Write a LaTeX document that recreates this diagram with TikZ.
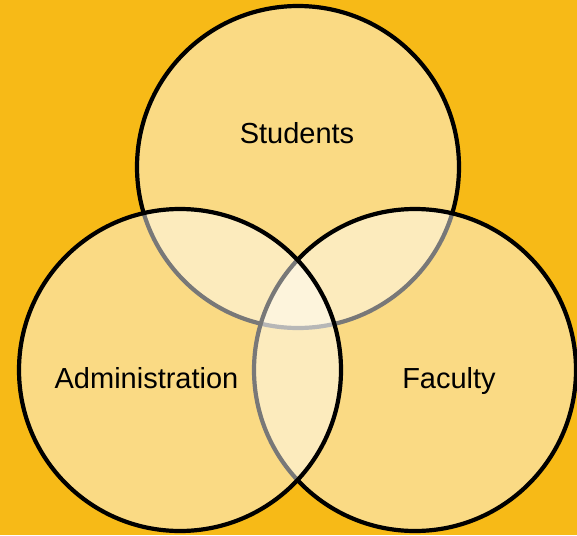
\documentclass[tikz,border=0pt]{standalone}
\usepackage{fontspec}
\setmainfont{Liberation Sans}
\definecolor{bgc}{HTML}{F7BA17}
\begin{document}
\begin{tikzpicture}[x=1pt,y=-1pt,
  venn/.style={circle, draw=black, line width=4.2pt, fill=white, fill opacity=0.47, inner sep=0pt, minimum size=322pt},
  lbl/.style={anchor=base, font=\fontsize{29}{34}\selectfont, text=black, inner sep=0pt}]
\fill[bgc] (0,0) rectangle (577,535);
\useasboundingbox (0,0) rectangle (577,535);
\node[venn] (stu) at (298,167) {};
\node[venn] (fac) at (415,370) {};
\node[venn] (adm) at (180,370) {};
\node[lbl] (tstu) at (297,143) {Students};
\node[lbl] (tadm) at (146.5,388) {Administration};
\node[lbl] (tfac) at (449,388) {Faculty};
\end{tikzpicture}
\end{document}
